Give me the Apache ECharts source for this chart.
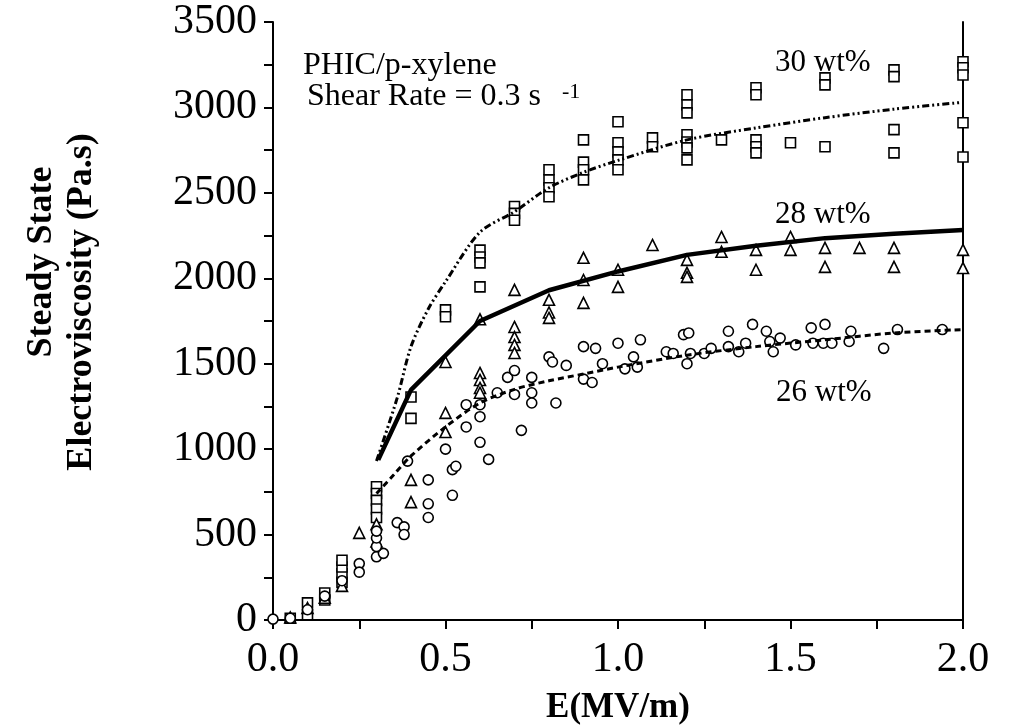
<!DOCTYPE html>
<html>
<head>
<meta charset="utf-8">
<script src="https://cdn.jsdelivr.net/npm/echarts@6/dist/echarts.min.js"></script>
<style>html,body{margin:0;padding:0;background:#fff;}#c{width:1009px;height:725px;}</style>
</head>
<body>
<div id="c"></div>
<script>
// 30 wt% (squares)
var sq30 = [[0.05,10],[0.1,30],[0.1,100],[0.15,117],[0.15,158],[0.2,220],[0.2,270],[0.2,310],[0.2,350],
[0.3,780],[0.3,740],[0.3,700],[0.3,650],[0.3,600],[0.4,1305],[0.4,1180],[0.5,1815],[0.5,1775],
[0.6,2165],[0.6,2125],[0.6,2090],[0.6,1950],[0.7,2420],[0.7,2380],[0.7,2340],
[0.8,2635],[0.8,2576],[0.8,2530],[0.8,2477],[0.9,2810],[0.9,2680],[0.9,2635],[0.9,2576],
[1.0,2916],[1.0,2793],[1.0,2740],[1.0,2693],[1.0,2635],[1.1,2822],[1.1,2770],
[1.2,3074],[1.2,3015],[1.2,2968],[1.2,2840],[1.2,2798],[1.2,2763],[1.2,2693],[1.3,2810],
[1.4,3115],[1.4,3074],[1.4,2810],[1.4,2770],[1.4,2734],[1.5,2793],[1.6,3173],[1.6,3132],[1.6,2770],
[1.8,3220],[1.8,3180],[1.8,2870],[1.8,2734],[2.0,3267],[2.0,3232],[2.0,3190],[2.0,2910],[2.0,2710]];
// 28 wt% (triangles)
var tri28 = [[0.05,15],[0.1,70],[0.15,130],[0.2,200],[0.25,510],[0.3,560],[0.3,460],[0.4,820],[0.4,690],
[0.5,1212],[0.5,1100],[0.5,1510],[0.6,1446],[0.6,1405],[0.6,1358],[0.6,1330],[0.6,1760],
[0.7,1932],[0.7,1715],[0.7,1656],[0.7,1610],[0.7,1563],[0.8,1874],[0.8,1800],[0.8,1768],
[0.9,2120],[0.9,1990],[0.9,1856],[1.0,2050],[1.0,1950],[1.1,2195],[1.2,2108],[1.2,2032],[1.2,2008],
[1.3,2242],[1.3,2155],[1.4,2166],[1.4,2050],[1.5,2242],[1.5,2166],[1.6,2178],[1.6,2067],[1.7,2178],
[1.8,2178],[1.8,2067],[2.0,2166],[2.0,2060]];
// 26 wt% (circles)
var cir26 = [[0,5],[0.05,10],[0.1,60],[0.15,140],[0.2,230],[0.25,330],[0.25,280],[0.3,370],[0.32,390],
[0.3,430],[0.3,480],[0.3,520],[0.36,570],[0.38,545],[0.38,500],[0.39,930],[0.45,820],[0.45,680],[0.45,600],
[0.52,880],[0.52,730],[0.5,1000],[0.53,900],[0.56,1260],[0.56,1130],[0.6,1040],[0.625,940],[0.6,1190],[0.6,1260],
[0.65,1330],[0.68,1420],[0.7,1460],[0.7,1320],[0.72,1110],[0.75,1420],[0.75,1330],[0.75,1270],[0.8,1540],
[0.81,1510],[0.82,1270],[0.85,1490],[0.9,1600],[0.935,1590],[0.9,1410],[0.925,1390],[0.955,1500],[1.0,1620],
[1.02,1470],[1.045,1540],[1.056,1480],[1.065,1640],[1.14,1570],[1.16,1560],[1.19,1670],[1.205,1680],[1.21,1560],
[1.2,1500],[1.25,1560],[1.27,1590],[1.32,1690],[1.32,1600],[1.35,1570],[1.37,1620],[1.39,1730],[1.43,1690],
[1.44,1630],[1.45,1570],[1.47,1650],[1.515,1610],[1.56,1710],[1.6,1730],[1.565,1620],[1.595,1620],[1.62,1620],
[1.67,1630],[1.675,1690],[1.77,1590],[1.81,1700],[1.94,1700]];
// fitted curves
var fit30 = [[0.3,930],[0.36,1300],[0.4,1600],[0.45,1820],[0.5,1980],[0.6,2270],[0.7,2390],[0.8,2530],[0.9,2620],
[1.0,2690],[1.2,2810],[1.4,2880],[1.6,2940],[1.8,2990],[2.0,3030]];
var fit28 = [[0.305,937],[0.4,1347],[0.6,1750],[0.8,1930],[1.0,2040],[1.2,2137],[1.4,2190],[1.6,2235],[1.8,2260],[2.0,2283]];
var fit26 = [[0.3,740],[0.35,850],[0.4,960],[0.5,1130],[0.6,1270],[0.7,1350],[0.8,1400],[0.9,1440],[1.0,1480],
[1.2,1550],[1.4,1600],[1.6,1640],[1.8,1680],[2.0,1700]];
var xTicks = [0, 0.5, 1.0, 1.5, 2.0];
var yTicks = [0, 500, 1000, 1500, 2000, 2500, 3000, 3500];

var serif = 'Liberation Serif';
var chart = echarts.init(document.getElementById('c'));
function sc(name, data, sym, size) {
  return {type:'scatter', name:name, data:data, symbol:sym, symbolSize:size, z:3,
    itemStyle:{color:'#fff', borderColor:'#000', borderWidth:1.6, opacity:1}};
}
chart.setOption({
  animation:false,
  backgroundColor:'#fff',
  grid:{left:273, right:46, top:22, bottom:105, containLabel:false, outerBoundsMode:'none'},
  xAxis:{type:'value', min:0, max:2, interval:0.5,
    axisLine:{lineStyle:{color:'#000', width:2}},
    axisTick:{length:9, lineStyle:{color:'#000', width:2}},
    minorTick:{show:true, splitNumber:2, length:9, lineStyle:{color:'#000', width:2}},
    splitLine:{show:false},
    axisLabel:{color:'#000', fontFamily:serif, fontSize:42, margin:19,
      formatter:function(v){return xTicks.indexOf(v)>=0 ? v.toFixed(1) : '';}},
    name:'E(MV/m)', nameLocation:'middle', nameGap:70,
    nameTextStyle:{color:'#000', fontFamily:serif, fontSize:35, fontWeight:'bold'}},
  yAxis:[{type:'value', min:0, max:3500, interval:500,
    axisLine:{lineStyle:{color:'#000', width:2}},
    axisTick:{length:9, lineStyle:{color:'#000', width:2}},
    minorTick:{show:true, splitNumber:2, length:9, lineStyle:{color:'#000', width:2}},
    splitLine:{show:false},
    axisLabel:{color:'#000', fontFamily:serif, fontSize:42, margin:16,
      formatter:function(v){return yTicks.indexOf(v)>=0 ? String(v) : '';}}},
   {type:'value', min:0, max:3500, position:'right',
    axisLine:{show:true, lineStyle:{color:'#000', width:2}},
    axisTick:{show:false}, axisLabel:{show:false}, splitLine:{show:false}}],
  graphic:[
    {type:'text', rotation:Math.PI/2, x:42, y:262, style:{text:'Steady State', fill:'#000', font:'bold 36px "Liberation Serif"', textAlign:'center', textVerticalAlign:'middle'}},
    {type:'text', rotation:Math.PI/2, x:82, y:302, style:{text:'Electroviscosity (Pa.s)', fill:'#000', font:'bold 36px "Liberation Serif"', textAlign:'center', textVerticalAlign:'middle'}},
    {type:'text', x:303, y:50, style:{text:'PHIC/p-xylene', fill:'#000', font:'32px "Liberation Serif"'}},
    {type:'text', x:307, y:81, style:{text:'Shear Rate = 0.3 s', fill:'#000', font:'32px "Liberation Serif"'}},
    {type:'text', x:562, y:81, style:{text:'-1', fill:'#000', font:'22px "Liberation Serif"'}},
    {type:'text', x:775, y:47, style:{text:'30 wt%', fill:'#000', font:'31px "Liberation Serif"'}},
    {type:'text', x:775, y:199, style:{text:'28 wt%', fill:'#000', font:'31px "Liberation Serif"'}},
    {type:'text', x:776, y:377, style:{text:'26 wt%', fill:'#000', font:'31px "Liberation Serif"'}}
  ],
  series:[
    {type:'line', data:fit30, showSymbol:false, smooth:0.3, z:4, lineStyle:{color:'#000', width:3, type:[7,3,2,3,2,3]}},
    {type:'line', data:fit28, showSymbol:false, smooth:false, z:4, lineStyle:{color:'#000', width:4.5}},
    {type:'line', data:fit26, showSymbol:false, smooth:0.3, z:4, lineStyle:{color:'#000', width:3, type:[6,4]}},
    sc('30 wt%', sq30, 'rect', 10),
    sc('28 wt%', tri28, 'triangle', 11),
    sc('26 wt%', cir26, 'circle', 10)
  ]
});
</script>
</body>
</html>
